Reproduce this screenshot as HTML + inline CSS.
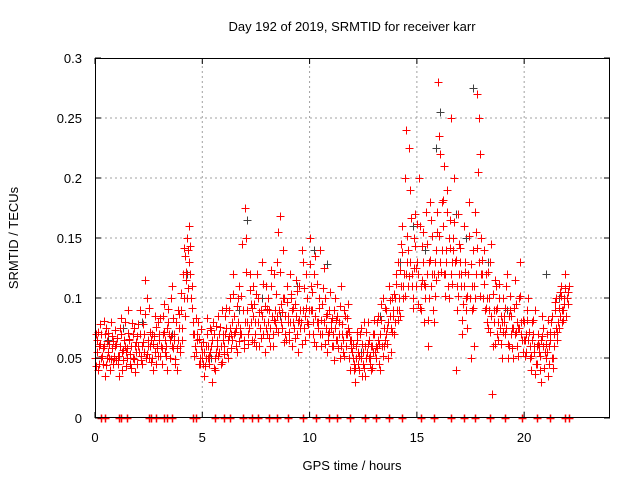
<!DOCTYPE html>
<html><head><meta charset="utf-8"><style>
html,body{margin:0;padding:0;background:#fff;width:640px;height:480px;overflow:hidden}
svg{display:block;font-family:"Liberation Sans",sans-serif}
</style></head><body>
<svg id="chart" width="640" height="480" viewBox="0 0 640 480">
<text x="352" y="31" text-anchor="middle" font-size="13">Day 192 of 2019, SRMTID for receiver karr</text>
<text x="352" y="470" text-anchor="middle" font-size="13">GPS time / hours</text>
<text transform="translate(18,238) rotate(-90)" text-anchor="middle" font-size="13">SRMTID / TECUs</text>
<g id="grid"></g>
<g id="marks"></g>
<g id="axes"></g>
</svg>
<script>
const xTicks=[0,5,10,15,20];
const yTicks=[0,0.05,0.1,0.15,0.2,0.25,0.3];
const yTickLabels=["0","0.05","0.1","0.15","0.2","0.25","0.3"];
const redV1=[.05,.065,.045,.07,.06,.075,.055,.04,.068,.05,
.062,.035,.07,.048,.08,.058,.066,.042,.075,.055,
.06,.09,.045,.07,.1,.05,.065,.04,.085,.058,
.07,.045,.095,.06,.08,.05,.11,.065,.04,.075,
.09,.12,.135,.15,.16,.11,.07,.055,.08,.045,
.05,.035,.07,.045,.06,.08,.04,.065,.055,.09,
.06,.075,.05,.1,.065,.085,.055,.11,.07,.09,
.175,.08,.12,.065,.095,.06,.1,.075,.13,.055,
.07,.09,.11,.06,.08,.13,.168,.075,.1,.065,
.085,.12,.06,.095,.07,.11,.08,.13,.065,.1,
.15,.09,.12,.06,.08,.14,.07,.1,.055,.09,
.075,.06,.1,.085,.05,.07,.09,.06,.095,.04,
.05,.03,.065,.04,.075,.055,.035,.08,.045,.06,
.07,.05,.085,.04,.1,.065,.075,.11,.055,.09,
.1,.13,.085,.16,.12,.24,.14,.19,.1,.17,
.13,.2,.09,.155,.11,.06,.18,.12,.08,.14,
.28,.22,.16,.12,.19,.1,.25,.15,.04,.17,
.13,.07,.16,.09,.12,.05,.14,.1,.27,.25,
.15,.1,.12,.075,.13,.02,.09,.11,.065,.085,
.1,.07,.12,.06,.085,.05,.095,.075,.13,.065,
.08,.055,.1,.04,.07,.09,.045,.06,.03,.075,
.05,.035,.065,.085,.06,.1,.075,.11,.09,.12,
.1,.11];
const redV2=[.07,.04,.078,.058,.035,.064,.05,.08,.045,.06,
.052,.075,.04,.065,.055,.09,.045,.07,.038,.068,
.055,.048,.078,.115,.06,.072,.05,.068,.045,.08,
.052,.085,.065,.04,.07,.1,.058,.045,.09,.06,
.075,.1,.115,.14,.12,.08,.06,.07,.045,.06,
.045,.06,.05,.075,.03,.07,.055,.085,.045,.07,
.085,.055,.09,.07,.12,.06,.1,.075,.145,.065,
.15,.07,.095,.11,.08,.12,.06,.09,.07,.11,
.1,.06,.085,.12,.075,.155,.095,.14,.07,.11,
.065,.1,.08,.115,.055,.09,.14,.075,.12,.07,
.11,.07,.135,.08,.1,.06,.125,.085,.07,.105,
.06,.09,.065,.08,.11,.055,.085,.07,.05,.065,
.04,.06,.045,.07,.035,.08,.05,.065,.04,.07,
.055,.08,.045,.095,.06,.09,.05,.085,.1,.07,
.12,.09,.145,.11,.2,.13,.225,.11,.15,.125,
.095,.16,.115,.08,.145,.1,.165,.09,.13,.155,
.235,.18,.21,.14,.11,.165,.13,.2,.09,.145,
.11,.095,.13,.075,.18,.11,.06,.155,.205,.22,
.12,.14,.08,.1,.145,.06,.115,.07,.1,.05,
.085,.11,.05,.09,.075,.115,.06,.1,.08,.055,
.065,.09,.05,.08,.06,.045,.07,.04,.085,.055,
.07,.045,.08,.05,.09,.065,.105,.08,.1,.085,
.095];
const redV3=[.055,.06,.05,.045,.07,.05,.062,.058,.052,.048,
.045,.06,.055,.06,.05,.065,.06,.05,.06,.045,
.07,.06,.055,.05,.065,.06,.07,.055,.06,.065,
.06,.07,.055,.075,.065,.06,.07,.08,.065,.055,
.065,.085,.1,.13,.1,.07,.06,.065,.05,.055,
.055,.05,.06,.055,.065,.05,.06,.07,.06,.065,
.07,.065,.075,.08,.07,.075,.08,.07,.09,.08,
.09,.075,.08,.085,.07,.08,.075,.085,.08,.075,
.08,.075,.07,.09,.085,.09,.08,.1,.085,.08,
.08,.09,.075,.085,.08,.075,.09,.085,.08,.09,
.09,.08,.085,.075,.07,.095,.08,.075,.065,.08,
.07,.075,.065,.07,.06,.065,.07,.075,.065,.055,
.045,.05,.055,.05,.045,.06,.055,.05,.06,.055,
.06,.065,.07,.06,.075,.07,.08,.075,.085,.08,
.09,.1,.11,.1,.12,.11,.13,.12,.125,.11,
.12,.11,.13,.1,.12,.13,.11,.12,.115,.12,
.13,.14,.12,.13,.15,.12,.14,.13,.11,.12,
.12,.11,.1,.12,.1,.09,.11,.12,.13,.12,
.1,.09,.1,.09,.085,.08,.09,.08,.075,.08,
.08,.075,.085,.07,.075,.07,.08,.075,.07,.065,
.07,.065,.06,.065,.055,.06,.055,.065,.06,.055,
.055,.06,.05,.07,.075,.08,.085,.09,.095,.1];
const redV4=[.043,.072,.062,.052,.081,.044,.071,.049,.064,.073,
.067,.052,.083,.057,.043,.071,.053,.079,.049,.063,
.078,.052,.063,.087,.053,.092,.047,.062,.076,.052,
.083,.058,.072,.052,.091,.068,.083,.049,.058,.087,
.104,.142,.122,.108,.143,.092,.052,.083,.066,.074,
.063,.043,.083,.052,.073,.042,.077,.052,.076,.047,
.053,.092,.068,.058,.103,.072,.093,.064,.102,.058,
.122,.062,.107,.092,.063,.103,.088,.067,.112,.093,
.091,.067,.123,.082,.103,.072,.122,.088,.063,.097,
.072,.103,.092,.067,.106,.082,.062,.108,.092,.078,
.128,.105,.063,.112,.092,.082,.108,.062,.087,.072,
.083,.048,.082,.058,.093,.078,.052,.083,.072,.058,
.062,.042,.072,.052,.062,.042,.072,.062,.052,.042,
.082,.058,.062,.082,.052,.092,.062,.098,.072,.103,
.112,.082,.123,.138,.102,.152,.118,.167,.092,.143,
.162,.092,.143,.112,.172,.082,.132,.152,.102,.172,
.152,.122,.182,.102,.172,.142,.112,.163,.132,.102,
.142,.082,.122,.102,.152,.128,.092,.172,.142,.102,
.132,.112,.092,.122,.072,.103,.062,.092,.112,.062,
.072,.092,.062,.102,.058,.092,.072,.052,.102,.082,
.052,.082,.072,.052,.082,.037,.062,.052,.068,.042,
.062,.082,.072,.042,.097,.072,.092,.102,.082,.108,
.105];
const grayT=[0.6,1.3,2.2,3.6,4.3,5.4,6.7,7.1,7.8,8.6,9.4,10.2,10.8,11.5,12.4,13.3,14.2,14.8,15.4,15.9,16.1,16.4,16.8,17.3,17.6,18.3,19.2,20.1,21.0,21.6];
const grayV=[0.065,0.075,0.08,0.07,0.12,0.05,0.09,0.165,0.1,0.085,0.11,0.14,0.128,0.07,0.055,0.085,0.13,0.16,0.14,0.225,0.255,0.19,0.17,0.15,0.275,0.13,0.09,0.07,0.12,0.1];
const zeroT=[0.3,0.45,1.1,1.2,1.5,2.5,2.6,2.85,3.2,3.35,3.6,4.55,4.7,5.6,6.0,6.3,6.9,7.3,7.6,8.1,8.5,9.0,9.7,10.3,10.9,11.3,11.9,12.6,13.1,13.7,14.3,15.2,15.8,16.6,17.2,17.7,18.4,19.1,19.9,20.6,21.2,21.9,22.1];
const x0=95,x1=610,yb=418,yt=58;
function X(t){return x0+t*(x1-x0)/24;}
function Y(v){return yb-v*(yb-yt)/0.3;}
const NS="http://www.w3.org/2000/svg";
function mk(tag,attrs,parent){const e=document.createElementNS(NS,tag);for(const k in attrs)e.setAttribute(k,attrs[k]);parent.appendChild(e);return e;}
const grid=document.getElementById('grid'),axes=document.getElementById('axes'),marks=document.getElementById('marks');
xTicks.forEach(t=>{
  if(t>0){const g=mk('line',{x1:X(t),x2:X(t),y1:yb,y2:yt,stroke:'#a0a0a0','stroke-dasharray':'2,3'},grid);
  
  }
  mk('line',{x1:X(t),x2:X(t),y1:yb,y2:yb-6,stroke:'#000'},axes);
  mk('line',{x1:X(t),x2:X(t),y1:yt,y2:yt+6,stroke:'#000'},axes);
  const l=mk('text',{x:X(t),y:yb+24,'text-anchor':'middle','font-size':'13'},axes);l.textContent=t;
  
  
});
yTicks.forEach((v,i)=>{
  if(v>0&&v<0.3){const g=mk('line',{x1:x0,x2:x1,y1:Y(v),y2:Y(v),stroke:'#a0a0a0','stroke-dasharray':'2,3'},grid);
  
  }
  mk('line',{x1:x0,x2:x0+6,y1:Y(v),y2:Y(v),stroke:'#000'},axes);
  mk('line',{x1:x1,x2:x1-6,y1:Y(v),y2:Y(v),stroke:'#000'},axes);
  const l=mk('text',{x:x0-13,y:Y(v)+5,'text-anchor':'end','font-size':'13'},axes);l.textContent=yTickLabels[i];
  
  
});
const frame=mk('rect',{x:x0+0.5,y:yt+0.5,width:x1-x0-1,height:yb-yt-1,fill:'none',stroke:'#000'},axes);


function plus(t,v){const x=Math.round(X(t))+0.5,y=Math.round(Y(v))+0.5;return `M${x-4} ${y}h8M${x} ${y-4}v8`;}
let gd='';grayT.forEach((t,i)=>{gd+=plus(t,grayV[i]);});
const gp=mk('path',{d:gd,stroke:'#404040','stroke-width':1,fill:'none'},marks);


let rd='';
redV1.forEach((v,i)=>{rd+=plus(i*0.1,v);});
redV2.forEach((v,i)=>{rd+=plus(i*0.1+0.05,v);});
redV3.forEach((v,i)=>{rd+=plus(i*0.1+0.075,v);});
redV4.forEach((v,i)=>{rd+=plus(i*0.1+0.025,v);});
const rp=mk('path',{d:rd,stroke:'#ff0000','stroke-width':1,fill:'none'},marks);


let zd='';zeroT.forEach(t=>{zd+=plus(t,0);});
const zp=mk('path',{d:zd,stroke:'#ff0000','stroke-width':1.5,fill:'none'},marks);


</script>
</body></html>
